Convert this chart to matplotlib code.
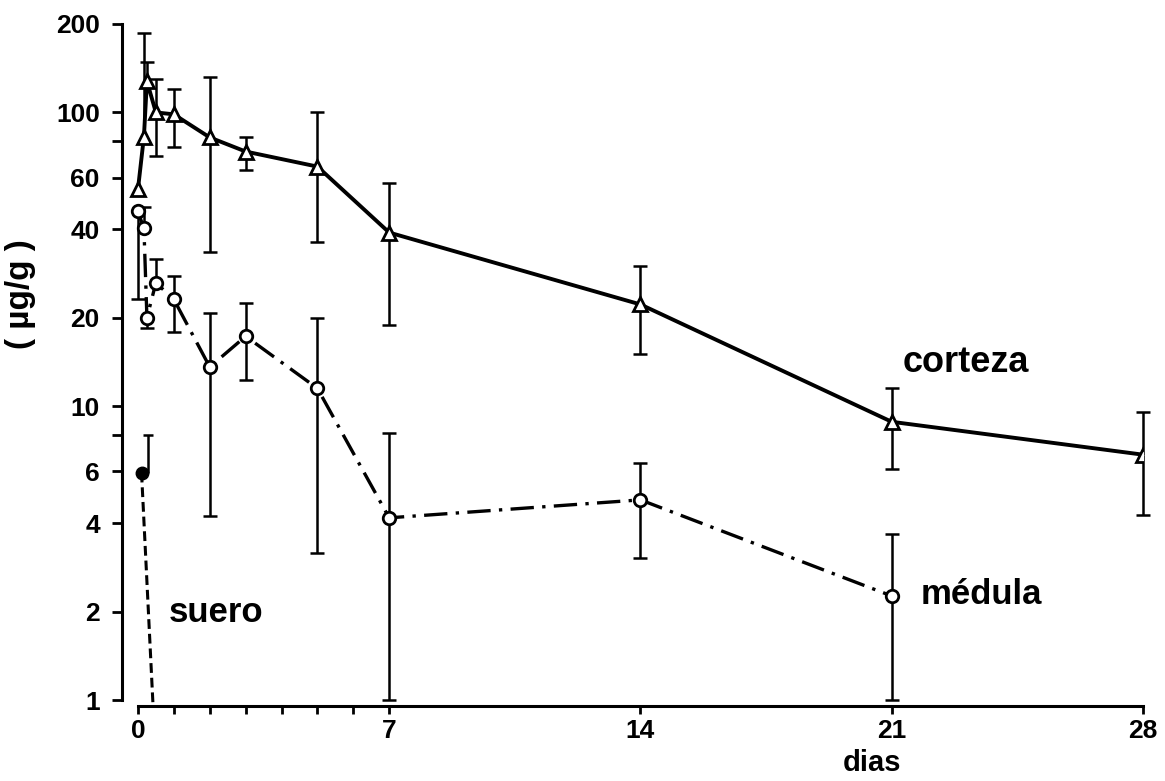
import numpy as np
import matplotlib
matplotlib.use("Agg")
import matplotlib.pyplot as plt

plt.rcParams['font.family'] = ['Liberation Sans', 'DejaVu Sans']
plt.rcParams['font.weight'] = 'bold'

# corteza (triangles, solid line)
cort_dias = np.array([0, 1/6, 1/4, 1/2, 1, 2, 3, 5, 7, 14, 21, 28])
cort_val = np.array([54.7, 82.8, 127.6, 100, 98.5, 82.2, 73.6, 65.4, 39.0, 22.2, 8.85, 6.84])
cort_lo = np.array([np.nan, np.nan, np.nan, 70.8, 76, 33.6, 63.9, 36.3, 18.9, 15.1, 6.12, 4.27])
cort_hi = np.array([np.nan, 187, 148, 129.5, 119.8, 131.6, 82.8, 100, 57.7, 30.1, 11.5, 9.58])

# medula (circles, dash-dot line)
med_dias = np.array([0, 1/6, 1/4, 1/2, 1, 2, 3, 5, 7, 14, 21])
med_val = np.array([46, 40.3, 20, 26.3, 23.1, 13.6, 17.3, 11.5, 4.17, 4.8, 2.26])
med_lo = np.array([23.1, np.nan, 18.5, np.nan, 17.9, 4.24, 12.3, 3.17, 1.0, 3.05, 1.0])
med_hi = np.array([np.nan, 47.8, np.nan, 31.8, 27.8, 20.8, 22.4, 19.9, 8.12, 6.42, 3.68])

# suero (filled dot, dashed line)
suero_dias = np.array([0.1, 0.42])
suero_val = np.array([5.94, 0.96])
suero_hi = np.array([8.0, np.nan])

yticks = [1, 2, 4, 6, 8, 10, 20, 40, 60, 80, 100, 200]
ytick_labels = ['1', '2', '4', '6', '', '10', '20', '40', '60', '', '100', '200']
xticks = [0, 7, 14, 21, 28]
xminor = [1, 2, 3, 4, 5, 6]

fig = plt.figure(figsize=(11.65, 7.81), dpi=100)
ax = fig.add_axes([0.1047, 0.1037, 0.8764, 0.8656])
ax.set_yscale('log')
ax.set_xlim(-0.445, 28)
ax.set_ylim(1, 200)


def bars(x, y, lo, hi, lw=1.8):
    m = ~np.isnan(lo)
    ax.vlines(x[m], lo[m], y[m], color='black', lw=lw, zorder=2, clip_on=False)
    ax.plot(x[m], lo[m], ls='none', marker='_', ms=9.5, mew=lw, color='black', zorder=2, clip_on=False)
    m = ~np.isnan(hi)
    ax.vlines(x[m], y[m], hi[m], color='black', lw=lw, zorder=2, clip_on=False)
    ax.plot(x[m], hi[m], ls='none', marker='_', ms=9.5, mew=lw, color='black', zorder=2, clip_on=False)


bars(cort_dias, cort_val, cort_lo, cort_hi)
bars(med_dias, med_val, med_lo, med_hi)
ax.vlines(0.28, suero_val[0], suero_hi[0], color='black', lw=1.8)
ax.plot([0.28], [suero_hi[0]], marker='_', ms=7, mew=1.8, color='black')

ax.plot(cort_dias, cort_val, color='black', lw=2.8, marker='^', ms=10,
        mfc='white', mec='black', mew=2, zorder=3)
ax.plot(med_dias, med_val, color='black', lw=2.4, ls=(0, (7, 2.5, 1, 2.5)),
        marker='o', ms=9, mfc='white', mec='black', mew=2, zorder=3)
ax.plot(suero_dias, suero_val, color='black', lw=2.2, ls=(0, (3.2, 1.6)),
        marker=None, zorder=3, clip_on=False)
ax.plot(suero_dias[:1], suero_val[:1], ls='none', marker='o', ms=9, color='black', zorder=4)

ax.text(21.3, 14.1, 'corteza', fontsize=26, fontweight='bold', va='center', ha='left')
ax.text(21.8, 2.28, 'médula', fontsize=25, fontweight='bold', va='center', ha='left')
ax.text(0.85, 1.98, 'suero', fontsize=25, fontweight='bold', va='center', ha='left')
fig.text(872 / 1165, 1 - 771 / 781, 'dias', fontsize=21, fontweight='bold', ha='center', va='baseline')
fig.text(20 / 1165, 1 - 294 / 781, '( µg/g )', fontsize=24, fontweight='bold',
         rotation=90, ha='center', va='center')

for s in ['top', 'right']:
    ax.spines[s].set_visible(False)
ax.spines['left'].set_linewidth(2.2)
ax.spines['bottom'].set_linewidth(2.2)
ax.spines['left'].set_bounds(1, 200)
ax.spines['bottom'].set_bounds(0, 28)
ax.spines['bottom'].set_position(('outward', 4))

ax.set_yticks(yticks)
ax.set_yticklabels(ytick_labels)
ax.yaxis.set_minor_locator(matplotlib.ticker.NullLocator())
ax.set_xticks(xticks)
ax.set_xticklabels([str(t) for t in xticks])
ax.set_xticks(xminor, minor=True)
ax.tick_params(axis='y', which='major', direction='out', length=7, width=2, pad=9, labelsize=19)
ax.tick_params(axis='x', which='major', direction='out', length=6, width=2, pad=4, labelsize=19)
ax.tick_params(axis='x', which='minor', direction='out', length=6, width=2)

fig.savefig('out.png', dpi=100)
